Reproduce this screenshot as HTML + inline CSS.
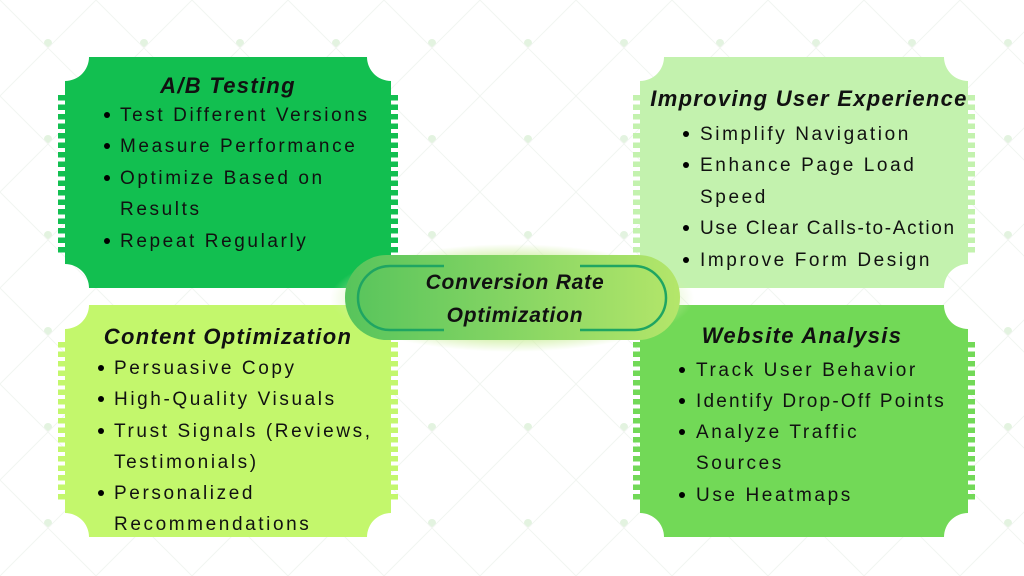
<!DOCTYPE html>
<html><head><meta charset="utf-8"><style>
html,body{margin:0;padding:0;background:#fff}
svg{display:block}
text{font-family:"Liberation Sans",sans-serif;fill:#111}
.t{font-weight:bold;font-style:italic;font-size:22px;text-anchor:middle;letter-spacing:1.3px}
.i{font-size:19px;letter-spacing:2.6px}
</style></head><body>
<svg width="1024" height="576" viewBox="0 0 1024 576" xmlns="http://www.w3.org/2000/svg">
<defs>
<pattern id="dots" x="0" y="0" width="96" height="96" patternUnits="userSpaceOnUse">
<circle cx="48" cy="43" r="4" fill="#e3f3e0"/>
<path d="M0 0 L96 96 M96 0 L0 96" stroke="#f1f5f1" stroke-width="1"/>
</pattern>
<pattern id="t1" width="10" height="9.5" patternUnits="userSpaceOnUse"><rect width="10" height="5.5" fill="#12bf50"/></pattern>
<pattern id="t2" width="10" height="9.5" patternUnits="userSpaceOnUse"><rect width="10" height="5.5" fill="#c3f2ae"/></pattern>
<pattern id="t3" width="10" height="9.5" patternUnits="userSpaceOnUse"><rect width="10" height="5.5" fill="#c3f76c"/></pattern>
<pattern id="t4" width="10" height="9.5" patternUnits="userSpaceOnUse"><rect width="10" height="5.5" fill="#72d957"/></pattern>
<linearGradient id="pg" x1="0" x2="1" y1="0" y2="0"><stop offset="0" stop-color="#57c45c"/><stop offset="1" stop-color="#b4e66a"/></linearGradient>
<radialGradient id="glow"><stop offset="0.75" stop-color="#d2f0a8" stop-opacity="0.9"/><stop offset="1" stop-color="#d2f0a8" stop-opacity="0"/></radialGradient>
</defs>
<rect width="1024" height="576" fill="url(#dots)"/>

<path d="M89 57 L367 57 A24 24 0 0 0 391 81 L391 264 A24 24 0 0 0 367 288 L89 288 A24 24 0 0 0 65 264 L65 81 A24 24 0 0 0 89 57 Z" fill="#12bf50"/>
<rect x="58" y="91" width="8" height="163" fill="url(#t1)"/>
<rect x="390" y="91" width="8" height="163" fill="url(#t1)"/>

<path d="M664 57 L944 57 A24 24 0 0 0 968 81 L968 264 A24 24 0 0 0 944 288 L664 288 A24 24 0 0 0 640 264 L640 81 A24 24 0 0 0 664 57 Z" fill="#c3f2ae"/>
<rect x="633" y="91" width="8" height="163" fill="url(#t2)"/>
<rect x="967" y="91" width="8" height="163" fill="url(#t2)"/>

<path d="M89 305 L367 305 A24 24 0 0 0 391 329 L391 513 A24 24 0 0 0 367 537 L89 537 A24 24 0 0 0 65 513 L65 329 A24 24 0 0 0 89 305 Z" fill="#c3f76c"/>
<rect x="58" y="339" width="8" height="164" fill="url(#t3)"/>
<rect x="390" y="339" width="8" height="164" fill="url(#t3)"/>

<path d="M664 305 L944 305 A24 24 0 0 0 968 329 L968 513 A24 24 0 0 0 944 537 L664 537 A24 24 0 0 0 640 513 L640 329 A24 24 0 0 0 664 305 Z" fill="#72d957"/>
<rect x="633" y="339" width="8" height="164" fill="url(#t4)"/>
<rect x="967" y="339" width="8" height="164" fill="url(#t4)"/>

<ellipse cx="512" cy="298" rx="182" ry="54" fill="url(#glow)"/>
<rect x="345" y="255" width="335" height="85" rx="42" fill="url(#pg)"/>
<path d="M444 266 L390 266 A32 32 0 0 0 390 330 L444 330" fill="none" stroke="#1fa562" stroke-width="2.5"/>
<path d="M580 266 L634 266 A32 32 0 0 1 634 330 L580 330" fill="none" stroke="#1fa562" stroke-width="2.5"/>
<text class="t" x="515" y="289" style="font-size:21px;letter-spacing:0.8px">Conversion Rate</text>
<text class="t" x="515" y="322" style="font-size:21px;letter-spacing:0.8px">Optimization</text>

<text class="t" x="228" y="93">A/B Testing</text>
<circle cx="107" cy="115" r="3"/><text class="i" x="120" y="121">Test Different Versions</text>
<circle cx="107" cy="146" r="3"/><text class="i" x="120" y="152">Measure Performance</text>
<circle cx="107" cy="178" r="3"/><text class="i" x="120" y="184">Optimize Based on</text>
<text class="i" x="120" y="215">Results</text>
<circle cx="107" cy="241" r="3"/><text class="i" x="120" y="247">Repeat Regularly</text>

<text class="t" x="809" y="106">Improving User Experience</text>
<circle cx="686" cy="134" r="3"/><text class="i" x="700" y="140">Simplify Navigation</text>
<circle cx="686" cy="165" r="3"/><text class="i" x="700" y="171">Enhance Page Load</text>
<text class="i" x="700" y="203">Speed</text>
<circle cx="686" cy="228" r="3"/><text class="i" x="700" y="234" style="letter-spacing:1.7px">Use Clear Calls-to-Action</text>
<circle cx="686" cy="260" r="3"/><text class="i" x="700" y="266">Improve Form Design</text>

<text class="t" x="228" y="344">Content Optimization</text>
<circle cx="101" cy="368" r="3"/><text class="i" x="114" y="374">Persuasive Copy</text>
<circle cx="101" cy="399" r="3"/><text class="i" x="114" y="405">High-Quality Visuals</text>
<circle cx="101" cy="431" r="3"/><text class="i" x="114" y="437">Trust Signals (Reviews,</text>
<text class="i" x="114" y="468">Testimonials)</text>
<circle cx="101" cy="493" r="3"/><text class="i" x="114" y="499">Personalized</text>
<text class="i" x="114" y="530">Recommendations</text>

<text class="t" x="802" y="343">Website Analysis</text>
<circle cx="682" cy="370" r="3"/><text class="i" x="696" y="376">Track User Behavior</text>
<circle cx="682" cy="401" r="3"/><text class="i" x="696" y="407" style="letter-spacing:2.2px">Identify Drop-Off Points</text>
<circle cx="682" cy="432" r="3"/><text class="i" x="696" y="438">Analyze Traffic</text>
<text class="i" x="696" y="469">Sources</text>
<circle cx="682" cy="495" r="3"/><text class="i" x="696" y="501">Use Heatmaps</text>
</svg>
</body></html>
